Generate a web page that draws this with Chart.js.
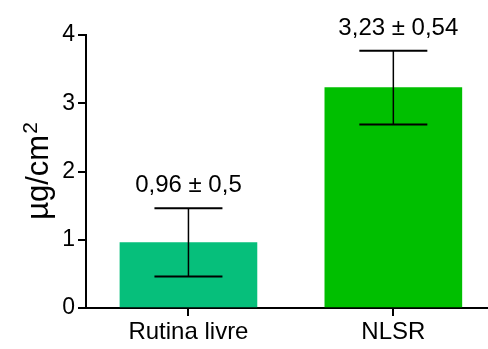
<!DOCTYPE html>
<html>
<head>
<meta charset="utf-8">
<script src="https://cdn.jsdelivr.net/npm/chart.js@4/dist/chart.umd.min.js"></script>
<style>
  html, body { margin: 0; padding: 0; background: #fff; }
  #wrap { width: 488px; height: 349px; position: relative; }
</style>
</head>
<body>
<div id="wrap"><canvas id="grafico"></canvas></div>
<script>
/* datos */
const categorias = ['Rutina livre', 'NLSR'];
const medias     = [0.96, 3.23];
const desvios    = [0.5, 0.54];
const coresBarra = ['#06bf7b', '#00bf00'];
const ticksY     = [0, 1, 2, 3, 4];

const FONTE = '"Liberation Sans", Arial, sans-serif';
const fmt = v => String(v).replace('.', ',');

/* barras de erro + rótulos "média ± dp" */
const barrasErro = {
    id: 'barrasErro',
    afterDatasetsDraw(chart) {
        const { ctx, scales: { x, y } } = chart;
        ctx.save();
        ctx.strokeStyle = '#000';
        medias.forEach((m, i) => {
            const px = x.getPixelForValue(i);
            const yTop = y.getPixelForValue(m + desvios[i]);
            const yBot = y.getPixelForValue(m - desvios[i]);
            ctx.lineWidth = 1.5;
            ctx.beginPath();
            ctx.moveTo(px, yTop); ctx.lineTo(px, yBot);
            ctx.stroke();
            ctx.lineWidth = 2;
            ctx.beginPath();
            ctx.moveTo(px - 34, yTop); ctx.lineTo(px + 34, yTop);
            ctx.moveTo(px - 34, yBot); ctx.lineTo(px + 34, yBot);
            ctx.stroke();

            ctx.fillStyle = '#000';
            ctx.font = '24px ' + FONTE;
            ctx.textAlign = 'center';
            ctx.textBaseline = 'alphabetic';
            ctx.fillText(fmt(m) + ' ± ' + fmt(desvios[i]), px + (i ? 5 : 0), yTop - 16);
        });
        ctx.restore();
    }
};

/* título do eixo Y com expoente + marcas do eixo X */
const tituloY = {
    id: 'tituloY',
    afterDraw(chart) {
        const { ctx, scales: { x, y } } = chart;
        ctx.save();
        const base = Math.round(y.getPixelForValue(0));
        ctx.fillStyle = '#000';
        categorias.forEach((c, i) => {
            const bx = Math.round(x.getPixelForValue(i));
            ctx.fillRect(bx - 1, base, 2, 8);
        });

        ctx.font = '31px ' + FONTE;
        const w1 = ctx.measureText('µg/cm').width;
        ctx.font = '21px ' + FONTE;
        const w2 = ctx.measureText('2').width;
        const total = w1 + w2 + 1;
        ctx.translate(48, 171);
        ctx.rotate(-Math.PI / 2);
        ctx.textBaseline = 'alphabetic';
        ctx.textAlign = 'left';
        ctx.font = '31px ' + FONTE;
        ctx.fillText('µg/cm', -total / 2, 0);
        ctx.font = '21px ' + FONTE;
        ctx.fillText('2', -total / 2 + w1 + 1, -11);
        ctx.restore();
    }
};

const dados = medias.map((v, i) => ({ x: i, y: v }));

new Chart(document.getElementById('grafico'), {
    type: 'bar',
    data: {
        datasets: [{
            data: dados,
            backgroundColor: coresBarra,
            borderWidth: 0,
            barThickness: 137
        }]
    },
    options: {
        responsive: true,
        maintainAspectRatio: false,
        animation: false,
        layout: { padding: { top: 35, right: 0, left: 0, bottom: 0 } },
        plugins: { legend: { display: false }, tooltip: { enabled: false } },
        scales: {
            x: {
                type: 'linear',
                min: -0.5,
                max: 1.462,
                offset: false,
                afterBuildTicks: s => { s.ticks = categorias.map((c, i) => ({ value: i })); },
                afterFit: s => { s.height = 41; },
                ticks: {
                    callback: v => categorias[v],
                    color: '#000',
                    font: { size: 24, family: FONTE },
                    padding: 2,
                    maxRotation: 0,
                    autoSkip: false
                },
                grid: { display: false },
                border: { display: true, color: '#000', width: 2 }
            },
            y: {
                min: 0,
                max: 4,
                afterBuildTicks: s => { s.ticks = ticksY.map(v => ({ value: v })); },
                afterFit: s => { s.width = 86; },
                ticks: {
                    color: '#000',
                    font: { size: 23, family: FONTE },
                    padding: 3
                },
                grid: { drawOnChartArea: false, drawTicks: true, tickLength: 8, color: '#000', lineWidth: 2 },
                border: { display: true, color: '#000', width: 2 }
            }
        }
    },
    plugins: [barrasErro, tituloY]
});
</script>
</body>
</html>
